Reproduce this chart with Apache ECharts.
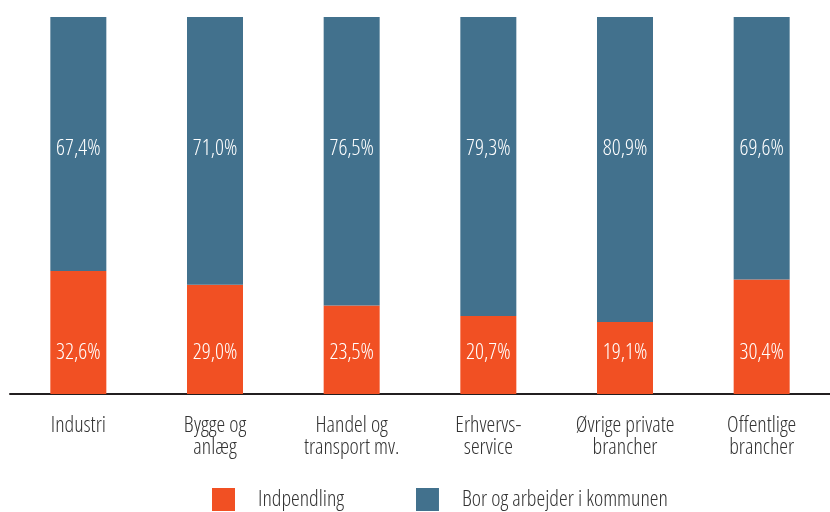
<!DOCTYPE html>
<html>
<head>
<meta charset="utf-8">
<script src="https://cdn.jsdelivr.net/npm/echarts@6/dist/echarts.min.js"></script>
<style>
  html, body { margin: 0; padding: 0; background: #fff; }
  #chart { width: 830px; height: 512px; }
</style>
</head>
<body>
<div id="chart"></div>
<script>
// data
const categories = ['Industri', 'Bygge og\nanlæg', 'Handel og\ntransport mv.', 'Erhvervs-\nservice', 'Øvrige private\nbrancher', 'Offentlige\nbrancher'];
const indpendling = [32.6, 29.0, 23.5, 20.7, 19.1, 30.4];
const borOgArbejder = [67.4, 71.0, 76.5, 79.3, 80.9, 69.6];

// Open Sans has a condensed cut installed, a light narrow face comes close to the original
const FONT = '"Open Sans", sans-serif';
const WEIGHT = '300 condensed';
const SIZE = 22;
const fmt = p => p.value.toFixed(1).replace('.', ',') + '%';

const chart = echarts.init(document.getElementById('chart'));
chart.setOption({
  animation: false,
  legend: {
    left: 212,
    top: 488,
    padding: 0,
    itemWidth: 23,
    itemHeight: 23,
    itemGap: 72,
    icon: 'rect',
    // top padding nudges the text a little below the square's centre, as in the original
    textStyle: { fontFamily: FONT, fontWeight: WEIGHT, fontSize: SIZE, lineHeight: 18, color: '#333', padding: [5, 0, 0, 18] },
    data: ['Indpendling', 'Bor og arbejder i kommunen']
  },
  grid: { left: 10, right: -11, top: 17, bottom: 118, containLabel: false },
  xAxis: {
    type: 'category',
    data: categories,
    axisLine: { lineStyle: { color: '#231f20', width: 2 } },
    axisTick: { show: false },
    axisLabel: { color: '#333', fontFamily: FONT, fontWeight: WEIGHT, fontSize: SIZE, lineHeight: 22, margin: 21, interval: 0 }
  },
  yAxis: { type: 'value', min: 0, max: 100, show: false },
  series: [
    {
      name: 'Indpendling',
      type: 'bar',
      stack: 'total',
      barWidth: 56,
      data: indpendling,
      itemStyle: { color: '#F15023' },
      label: { show: true, position: 'insideBottom', distance: 30, color: '#fff', fontFamily: FONT, fontWeight: WEIGHT, fontSize: SIZE, formatter: fmt }
    },
    {
      name: 'Bor og arbejder i kommunen',
      type: 'bar',
      stack: 'total',
      barWidth: 56,
      data: borOgArbejder,
      itemStyle: { color: '#42718D' },
      label: { show: true, position: 'insideTop', distance: 121, color: '#fff', fontFamily: FONT, fontWeight: WEIGHT, fontSize: SIZE, formatter: fmt }
    }
  ]
});
</script>
</body>
</html>
